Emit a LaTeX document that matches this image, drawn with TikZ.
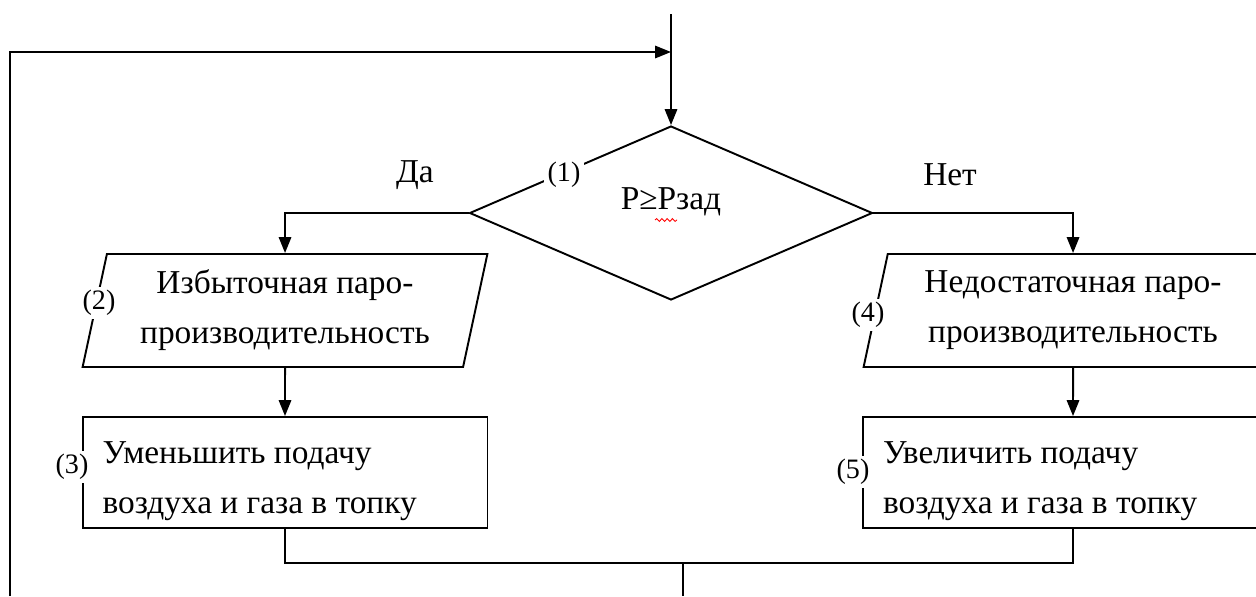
\documentclass[tikz,border=0pt]{standalone}
\usepackage{fontspec}
\setmainfont{Liberation Serif}
\usetikzlibrary{shapes.geometric, arrows.meta, decorations.pathmorphing}

\begin{document}
\begin{tikzpicture}[x=0.02cm, y=-0.02cm, line width=1.1pt,
	font=\fontsize{19}{28.5}\selectfont,
	arr/.style={-{Triangle[length=9pt,width=7pt]}},
	romb/.style={draw,diamond,minimum width=8.06cm,minimum height=3.48cm,inner sep=0pt},
	paral/.style={draw,trapezium,trapezium left angle=77.5,trapezium right angle=102.5,
		trapezium stretches=true,minimum width=8.1cm,minimum height=2.26cm,align=center},
	blok/.style={draw,rectangle,minimum width=8.1cm,minimum height=2.22cm,inner xsep=0.4cm,inner ysep=0pt}]
	\useasboundingbox (0,0) rectangle (1256,596);
	\clip (0,0) rectangle (1256,596);
	\node[romb] (1) at (671,213) {\raisebox{2pt}[0pt][0pt]{P≥Pзад}};
	\node[paral] (2) at (285,310.5) {Избыточная паро-\\производительность};
	\node[blok] (3) at (285,472.5) {\raisebox{-9pt}[0pt][0pt]{\parbox{7.3cm}{Уменьшить подачу\\воздуха и газа в топку}}};
	\node[paral,minimum width=8.4cm] (4) at (1073,310.5) {Недостаточная паро-\\производительность};
	\node[blok,minimum width=8.4cm] (5) at (1073,472.5) {\raisebox{-9pt}[0pt][0pt]{\parbox{7.6cm}{Увеличить подачу\\воздуха и газа в топку}}};
	\begin{scope}[every node/.style={fill=white,inner sep=2pt,font=\fontsize{16}{18}\selectfont}]
		\node (l1) at (564,175) {(1)};
		\node (l2) at (99,303) {(2)};
		\node (l3) at (72,467) {(3)};
		\node (l4) at (868,315) {(4)};
		\node (l5) at (853,472) {(5)};
	\end{scope}
	\node (da) at (415,175) {Да};
	\node (net) at (950,175) {Нет};
	\coordinate (0) at (671,14);
	\coordinate (c) at (671,52);
	\coordinate (b) at (10,596);
	\coordinate (m) at (683,563);
	\coordinate (e) at (683,596);
	\draw[arr] (0) to (1.north);
	\draw[arr] (b) |- (c);
	\draw[arr] (1.west) -| (2.north);
	\draw[arr] (1.east) -| (4.north);
	\draw[arr] (2.south) to (3.north);
	\draw[arr] (4.south) to (5.north);
	\draw (3.south) |- (m) -| (5.south);
	\draw (m) to (e);
	\draw[red,line width=0.5pt,decorate,decoration={snake,amplitude=0.8pt,segment length=3pt}] (655,220) to (677,220);
\end{tikzpicture}
\end{document}
